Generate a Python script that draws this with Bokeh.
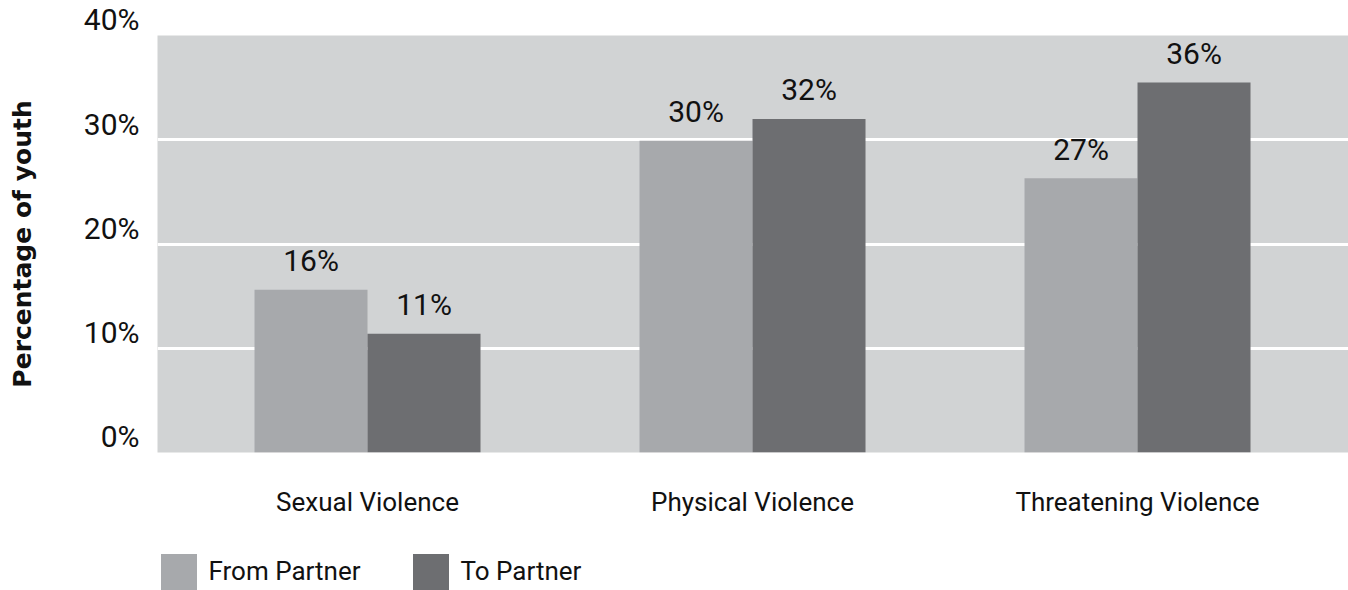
from bokeh.plotting import figure
from bokeh.layouts import column
from bokeh.models import (ColumnDataSource, Range1d, FixedTicker, PrintfTickFormatter,
                          Legend, LegendItem)
from bokeh.core.properties import value
from bokeh.embed import file_html
from bokeh.resources import INLINE

# ---- data ----
categories = ["Sexual Violence", "Physical Violence", "Threatening Violence"]
from_partner = [15.6, 29.9, 26.3]
to_partner = [11.4, 32.0, 35.5]
from_labels = ["16%", "30%", "27%"]
to_labels = ["11%", "32%", "36%"]
y_ticks = [0, 10, 20, 30, 40]
grid_ticks = [10, 20, 30]
series_names = ["From Partner", "To Partner"]

# ---- layout helpers ----
pos = list(range(1, len(categories) + 1))
bar_w = 0.2935
half = bar_w / 2

src_from = ColumnDataSource(dict(x=[p_ - half for p_ in pos], top=from_partner, label=from_labels))
src_to = ColumnDataSource(dict(x=[p_ + half for p_ in pos], top=to_partner, label=to_labels))

FONT = "Roboto"
C_FROM = "#a7a9ac"
C_TO = "#6d6e71"
TXT = "#111111"

p = figure(width=1348, height=540, output_backend="svg", toolbar_location=None,
           x_range=Range1d(0.4545, 3.548), y_range=Range1d(0, 40),
           min_border_left=157, min_border_right=0, min_border_top=35, min_border_bottom=88,
           background_fill_color="#d1d3d4", border_fill_color="white",
           outline_line_color=None)

r_from = p.vbar(x="x", top="top", width=bar_w, bottom=0, source=src_from,
                fill_color=C_FROM, line_color=None)
r_to = p.vbar(x="x", top="top", width=bar_w, bottom=0, source=src_to,
              fill_color=C_TO, line_color=None)

for src in (src_from, src_to):
    p.text(x="x", y="top", text="label", source=src, text_align="center",
           text_baseline="alphabetic", y_offset=-29,
           text_font=value(FONT), text_font_size="30px", text_color=TXT)

# grid
p.xgrid.visible = False
p.ygrid.ticker = FixedTicker(ticks=grid_ticks)
p.ygrid.grid_line_color = "white"
p.ygrid.grid_line_width = 3

# y axis (labels sit just above their gridlines, as in the original)
ya = p.yaxis[0]
ya.ticker = FixedTicker(ticks=y_ticks)
ya.formatter = PrintfTickFormatter(format="%d%%\n")
ya.axis_line_color = None
ya.major_tick_line_color = None
ya.minor_tick_line_color = None
ya.major_label_standoff = 12
ya.major_label_text_font = FONT
ya.major_label_text_font_size = "30px"
ya.major_label_text_line_height = 0.9
ya.major_label_text_color = TXT
ya.axis_label = "Percentage of youth"
ya.axis_label_text_font = "DejaVu Sans"
ya.axis_label_text_font_style = "bold"
ya.axis_label_text_font_size = "25px"
ya.axis_label_text_color = TXT
ya.axis_label_standoff = 44

# x axis
xa = p.xaxis[0]
xa.ticker = FixedTicker(ticks=pos)
xa.major_label_overrides = {pos[i]: categories[i] for i in range(len(categories))}
xa.axis_line_color = None
xa.major_tick_line_color = None
xa.minor_tick_line_color = None
xa.major_label_standoff = 28
xa.major_label_text_font = FONT
xa.major_label_text_font_size = "26px"
xa.major_label_text_color = TXT

# ---- legend strip (separate small figure under the chart) ----
# Key renderers share the bar sources but are hidden; only their swatches show.
lf = figure(width=1348, height=50, output_backend="svg", toolbar_location=None,
            x_range=Range1d(100, 101), y_range=Range1d(100, 101),
            min_border=0, outline_line_color=None, border_fill_color="white",
            background_fill_color="white")
lf.axis.visible = False
lf.grid.visible = False
k_from = lf.vbar(x="x", top="top", width=bar_w, source=src_from, fill_color=C_FROM, line_color=None)
k_to = lf.vbar(x="x", top="top", width=bar_w, source=src_to, fill_color=C_TO, line_color=None)
k_from.visible = False
k_to.visible = False
lg = Legend(items=[LegendItem(label=series_names[0], renderers=[k_from], index=0),
                   LegendItem(label=series_names[1], renderers=[k_to], index=0)],
            location=(-1.5, -3.5), orientation="horizontal", click_policy="none",
            glyph_width=45, glyph_height=45, padding=0, margin=0, spacing=0,
            label_width=199, label_standoff=8,
            label_text_font=FONT, label_text_font_size="26px",
            label_text_color=TXT, background_fill_alpha=0, border_line_alpha=0)
lf.add_layout(lg, "center")

layout = column(p, lf, spacing=0)
open("out.html", "w").write(file_html(layout, INLINE))
